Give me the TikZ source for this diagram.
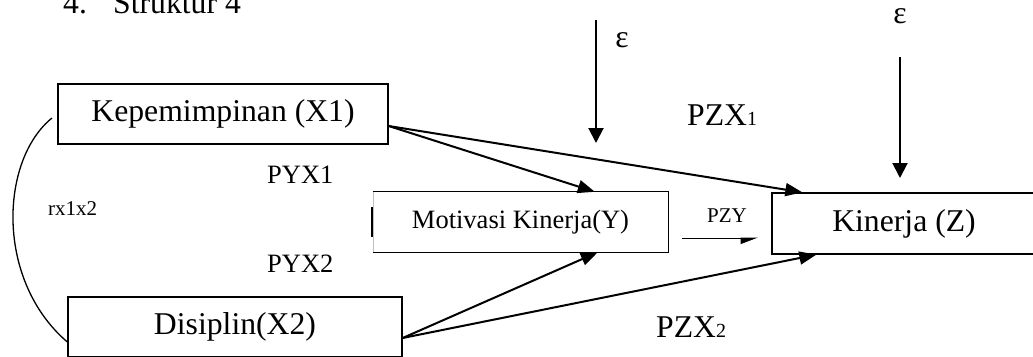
\documentclass[tikz,border=0pt]{standalone}
\usepackage{fontspec}
\setmainfont{Liberation Serif}
\usetikzlibrary{arrows.meta,calc}
\begin{document}
\begin{tikzpicture}[x=1pt,y=-1pt,
  big/.style={font=\fontsize{31.7}{38}\selectfont},
  mid/.style={font=\fontsize{26.5}{32}\selectfont},
  small/.style={font=\fontsize{21}{25}\selectfont},
  lbl/.style={inner sep=0pt,anchor=base west},
  box/.style={draw,line width=1.3pt,inner sep=0pt,align=center},
  effect/.style={line width=2pt,-{Triangle[length=17pt,width=13pt]}},
  err/.style={line width=2pt,-{Triangle[length=15pt,width=15pt]}},
]
\useasboundingbox (0,0) rectangle (1033,356);
\clip (0,0) rectangle (1033,356);

% heading
\node[big,lbl] (title) at (63,13) {\makebox[50pt][l]{4.}Struktur 4};

% variables
\node[box,big,minimum width=330pt,minimum height=60pt] (kep) at (223,114) {Kepemimpinan (X1)};
\node[box,big,minimum width=334pt,minimum height=60pt] (dis) at (235,327) {Disiplin(X2)};
\node[mid,inner sep=0pt,minimum width=295pt,minimum height=60pt] (mot) at (520.5,222) {Motivasi Kinerja(Y)};
\node[box,big,minimum width=264pt,minimum height=61pt] (kin) at (904,223.5) {Kinerja (Z)};

% intervening box: three dark sides, faint left side with a short dark bar
\draw[line width=1.3pt] (mot.north west) -- (mot.north east) -- (mot.south east) -- (mot.south west);
\draw[line width=0.6pt,black!25] (mot.south west) -- (mot.north west);
\draw[line width=2pt] ($(mot.north west)+(-1,15)$) -- ($(mot.north west)+(-1,45)$);

% path arrows
\draw[effect] ($(kep.east)+(0,12)$) -- ($(mot.north west)+(222,0)$);
\draw[effect] ($(kep.east)+(0,12)$) -- ($(kin.north west)+(31,0)$);
\draw[effect] ($(dis.east)+(0,11)$) -- ($(mot.south west)+(225,0)$);
\draw[effect] ($(dis.east)+(0,11)$) -- ($(kin.south west)+(45,0)$);

% residual terms
\coordinate (e1a) at (596,20);
\coordinate (e1b) at (596,143);
\draw[err] (e1a) -- (e1b);
\node[big] (eps1) at (622,40) {ε};
\coordinate (e2a) at (900,57);
\coordinate (e2b) at (900,178);
\draw[err] (e2a) -- (e2b);
\node[big] (eps2) at (900,16) {ε};

% Y -> Z
\coordinate (pzya) at (682,238);
\coordinate (pzyb) at (758,238);
\draw[line width=1pt,-{Triangle[harpoon,swap,length=16pt,width=12pt]}] (pzya) -- (pzyb);

% correlation between X1 and X2
\coordinate (arcA) at (52,118);
\draw[line width=1.3pt] (arcA) .. controls (0,160) and (-5,280) .. ($(dis.west)+(0,15)$);

% coefficient labels
\node[small,lbl] (lpzy) at (707,222) {PZY};
\node[big,lbl] (lpzx1) at (687,125) {PZX{\fontsize{20}{24}\selectfont 1}};
\node[big,lbl] (lpzx2) at (656,337) {PZX{\fontsize{20}{24}\selectfont 2}};
\node[mid,lbl] (lpyx1) at (267,183) {PYX1};
\node[mid,lbl] (lpyx2) at (267,272) {PYX2};
\node[small,lbl] (lr) at (48,215) {rx1x2};
\end{tikzpicture}
\end{document}
